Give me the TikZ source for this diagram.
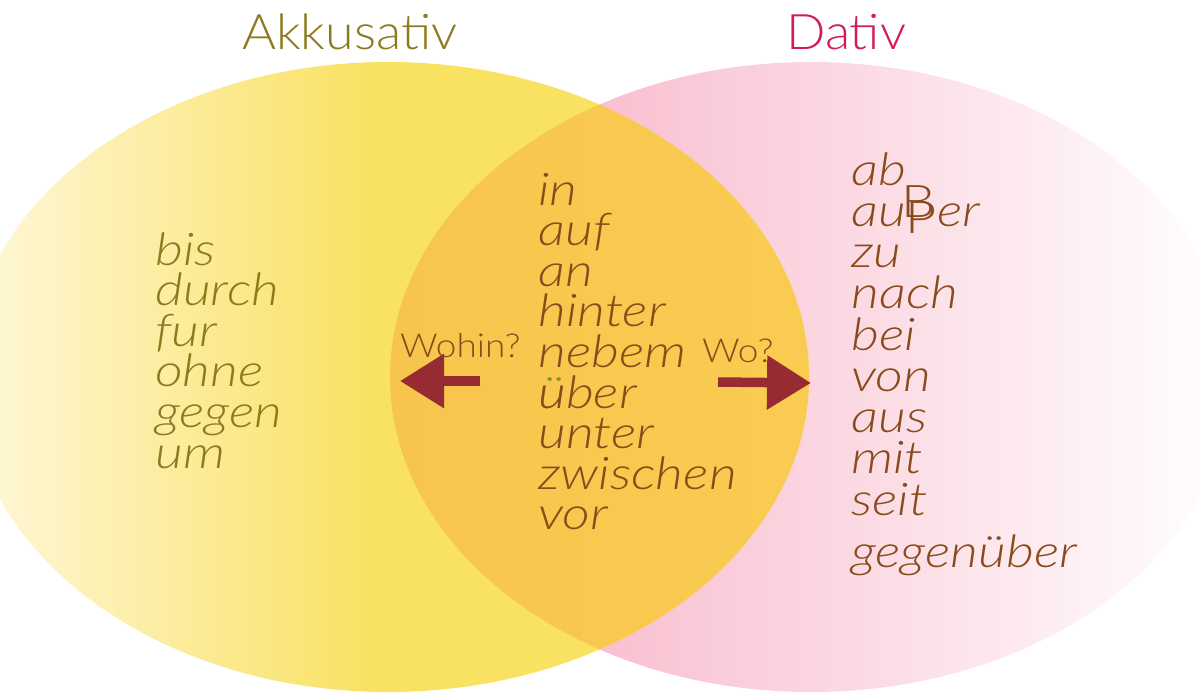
\documentclass[tikz,border=0pt]{standalone}
\usepackage{fontspec}
\setmainfont{Lato Light}
\newfontfamily\titelfont{Lato Light}[FakeStretch=1.06]
\newfontfamily\wortfont{Lato Light}[FakeStretch=1.2]
\newfontfamily\fragefont{Lato Light}[FakeStretch=1.12]
\usetikzlibrary{arrows.meta}

\definecolor{akkhell}{HTML}{FFF8DC}
\definecolor{akkgelb}{HTML}{F9E162}
\definecolor{dativhell}{HTML}{F7ABC1}
\definecolor{dativmitte}{HTML}{FCD6E0}
\definecolor{schnittL}{HTML}{F8C54C}
\definecolor{schnittR}{HTML}{FAD257}
\definecolor{akkoliv}{HTML}{8C7A1E}
\definecolor{dativrot}{HTML}{D41A5A}
\definecolor{braun}{HTML}{8A4B1C}
\definecolor{pfeilrot}{HTML}{962C31}
\definecolor{dotgruen}{HTML}{7F8F2C}

\pgfdeclarehorizontalshading{akkverlauf}{100bp}{color(0bp)=(akkhell); color(25bp)=(akkhell);
  color(49bp)=(akkgelb); color(100bp)=(akkgelb)}

\tikzset{
  titel/.style={anchor=base west, inner sep=0pt, font=\titelfont\fontsize{49}{49}\selectfont},
  akkwort/.style={anchor=base west, inner sep=0pt, text=akkoliv, font=\wortfont\fontsize{45}{45}\selectfont\itshape},
  wort/.style={anchor=base west, inner sep=0pt, text=braun, font=\wortfont\fontsize{45}{45}\selectfont\itshape},
  frage/.style={anchor=base west, inner sep=0pt, text=braun, font=\fragefont\fontsize{33}{33}\selectfont},
  pfeil/.style={draw=pfeilrot, line width=9.5pt, -{Triangle[length=44pt, width=52pt]}}
}

\begin{document}
\begin{tikzpicture}[x=1pt, y=-1pt]
    \useasboundingbox (0,0) rectangle (1200,693);

    % 两个椭圆
    \path[left color=dativhell, middle color=dativmitte, right color=white]
        (811,377) ellipse [x radius=421, y radius=315];
    \path[shading=akkverlauf]
        (388,377) ellipse [x radius=421, y radius=315];

    % 交集
    \begin{scope}
        \clip (388,377) ellipse [x radius=421, y radius=315];
        \path[left color=schnittL, right color=schnittR]
            (811,377) ellipse [x radius=421, y radius=315];
    \end{scope}

    % 标题
    \node[titel, text=akkoliv] (akkusativ) at (242,50) {Akkusativ};
    \node[titel, text=dativrot] (dativ) at (786,50) {Dativ};

    % 三列介词
    \foreach \w [count=\i from 0] in {bis,durch,fur,ohne,gegen,um}
        \node[akkwort] (akk\i) at (155,265+40.6*\i) {\w};
    \foreach \w [count=\i from 0] in {in,auf,an,hinter,nebem,
        {{\color{dotgruen}ü}\llap{u}ber},unter,zwischen,vor}
        \node[wort] (wech\i) at (538,205+40.6*\i) {\w};
    \foreach \w [count=\i from 0] in {ab,
        {au\rlap{\kern-.1em\raisebox{.2em}{\upshape B}}\raisebox{-.17em}{\upshape P}er},zu,nach,bei,von,aus,mit,seit}
        \node[wort] (dat\i) at (851,185+41.25*\i) {\w};
    \node[wort] (gegenueber) at (851,567) {gegenüber};

    % 箭头
    \node[frage] (wohin) at (400,357) {Wohin?};
    \node[frage] (wo) at (702,362) {Wo?};
    \coordinate (wohinA) at (480,381);
    \coordinate (wohinB) at (400,381);
    \coordinate (woA) at (718,382);
    \coordinate (woB) at (811,383);
    \draw[pfeil] (wohinA) -- (wohinB);
    \draw[pfeil] (woA) -- (woB);
\end{tikzpicture}
\end{document}
